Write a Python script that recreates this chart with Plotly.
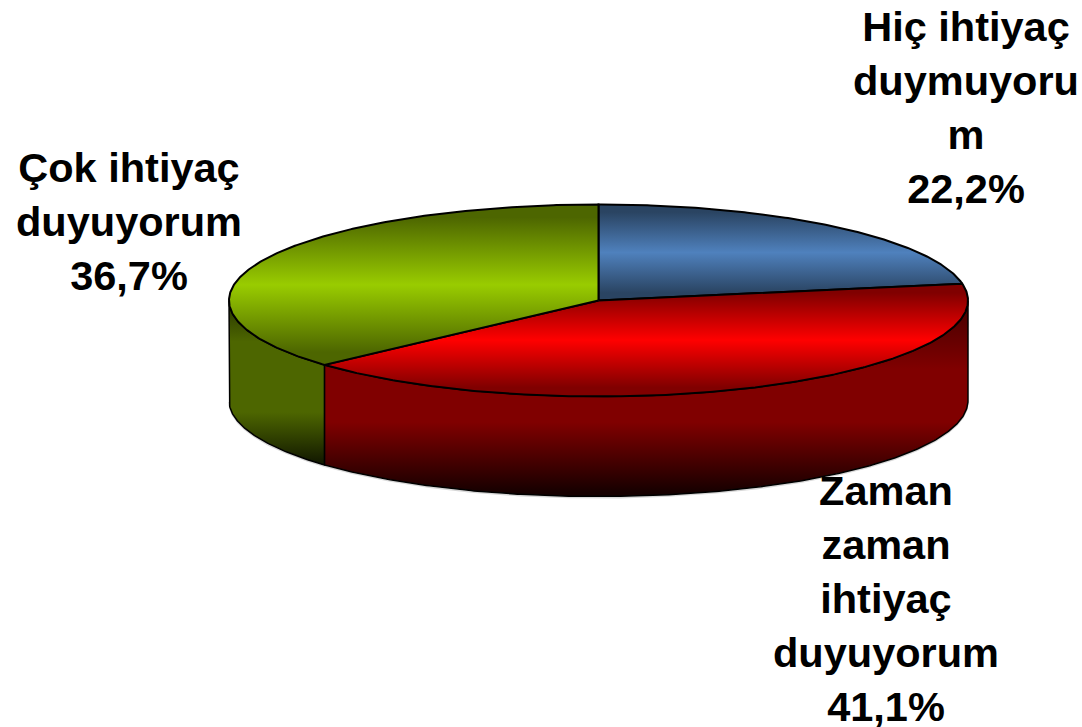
import numpy as np
import plotly.graph_objects as go

categories = ["Hiç ihtiyaç<br>duymuyoru<br>m", "Zaman<br>zaman<br>ihtiyaç<br>duyuyorum", "Çok ihtiyaç<br>duyuyorum"]
values = [22.2, 41.1, 36.7]
top_colors = [("#2a4462", "#4f81bd"), ("#800000", "#ff0000"), ("#4d6600", "#99cc00")]
side_colors = [
    None,
    [[0, "#420000"], [0.35, "#800000"], [0.62, "#800000"], [0.98, "#160000"], [1, "#160000"]],
    [[0, "#263300"], [0.25, "#4d6600"], [0.68, "#4d6600"], [0.98, "#141b00"], [1, "#141b00"]],
]
label_positions = [(965.5, 107), (885.5, 598), (128.5, 221)]

CX, CY, RX, RY, DEPTH = 598.5, 300.5, 369.5, 96, 100

def edge(a0, a1, dy=0):
    t = np.radians(np.linspace(a0, a1, max(2, int(abs(a1 - a0) * 2))))
    return CX + RX * np.sin(t), CY - RY * np.cos(t) + dy

def top_grad(cols, ys):
    return dict(type="vertical", start=float(ys.min()), stop=float(ys.max()),
                colorscale=[[0, cols[0]], [0.08, cols[0]], [0.5, cols[1]], [0.92, cols[0]], [1, cols[0]]])

fig = go.Figure()
angle = 0.0
slices = []
for v in values:
    a1 = angle + v * 3.6
    slices.append((angle, a1))
    angle = a1

# side walls
for (a0, a1), cols in zip(slices, side_colors):
    lo, hi = max(a0, 90), min(a1, 270)
    if cols is None or lo >= hi:
        continue
    xt, yt = edge(lo, hi)
    xb, yb = edge(hi, lo, DEPTH)
    xs = np.r_[xt, xb, xt[0]]
    ys = np.r_[yt, yb, yt[0]]
    fig.add_trace(go.Scatter(x=xb, y=yb + 1.3, mode="lines", line=dict(color="#d8d8d8", width=1.5),
                             hoverinfo="skip", showlegend=False))
    fig.add_trace(go.Scatter(x=xs, y=ys, mode="lines", fill="toself",
                             fillgradient=dict(type="vertical", start=float(ys.min()), stop=float(ys.max()),
                                               colorscale=cols),
                             line=dict(color="#000000", width=1.5), hoverinfo="skip", showlegend=False))

# top faces
for (a0, a1), cols in zip(slices, top_colors):
    xe, ye = edge(a0, a1)
    xs = np.r_[CX, xe, CX]
    ys = np.r_[CY, ye, CY]
    fig.add_trace(go.Scatter(x=xs, y=ys, mode="lines", fill="toself", fillgradient=top_grad(cols, ys),
                             line=dict(color="#000000", width=2), hoverinfo="skip", showlegend=False))

for name, v, (lx, ly) in zip(categories, values, label_positions):
    fig.add_annotation(x=lx, y=ly, text=f"<b>{name}<br>{str(v).replace('.', ',')}%</b>", showarrow=False,
                       xanchor="center", yanchor="middle", align="center",
                       font=dict(family="Liberation Sans, Arial, sans-serif", size=41.5, color="#000000"))

fig.update_layout(
    width=1082, height=727, margin=dict(l=0, r=0, t=0, b=0),
    paper_bgcolor="#ffffff", plot_bgcolor="#ffffff", showlegend=False,
    xaxis=dict(range=[0, 1082], visible=False, fixedrange=True),
    yaxis=dict(range=[727, 0], visible=False, fixedrange=True),
)
fig.write_html("out.html", config={"displayModeBar": False},
               post_script="document.body.style.margin='0';document.body.style.overflow='hidden';")
